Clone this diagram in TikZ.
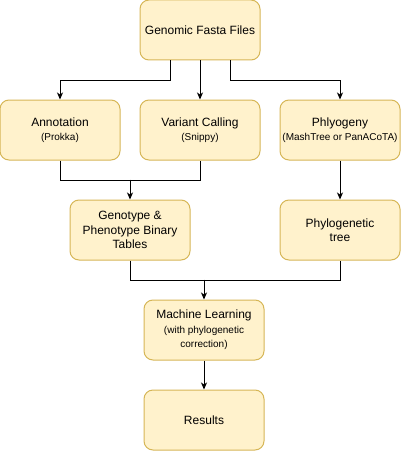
\documentclass[tikz,border=0pt]{standalone}
\usepackage{fontspec}
\setmainfont{Liberation Sans}
\usetikzlibrary{arrows.meta, positioning}
\definecolor{boxfill}{HTML}{FFF2CC}
\definecolor{boxline}{HTML}{D6B656}
\newcommand{\subtext}[1]{{\fontsize{10}{12}\selectfont #1}}

\begin{document}
\begin{tikzpicture}[x=1pt,y=-1pt,-{Stealth[length=7pt,width=6pt,inset=2pt]},line width=1pt,draw=black]
    \tikzstyle{stage}=[rectangle,rounded corners=9pt,draw=boxline,fill=boxfill,minimum width=120pt,minimum height=60pt,inner sep=0pt,align=center,font=\fontsize{12}{14.5}\selectfont]
    \useasboundingbox (0,0) rectangle (401,452);

    % Draw the input node
    \node[stage] (G) at (200,30) {Genomic Fasta Files};

    % Draw the three tools
    \foreach \name/\x/\main/\tool in {A/60/Annotation/(Prokka),V/200/Variant Calling/(Snippy),P/340/Phlyogeny/(MashTree or PanACoTA)}
        \node[stage] (\name) at (\x,130) {\main\\\subtext{\tool}};

    % Draw the tables and the tree
    \node[stage] (T) at (130,230) {Genotype \&\\Phenotype Binary\\Tables};
    \node[stage] (Y) at (340,230) {Phylogenetic\\tree};

    % Draw the learning step and the output
    \node[stage] (M) at (204,330) {Machine Learning\\\subtext{(with phylogenetic}\\\subtext{correction)}};
    \node[stage] (R) at (204,420) {Results};

    % Connect the input with the tools
    \draw ([xshift=-30pt]G.south) -- ++(0,20) -| (A.north);
    \draw (G) -- (V);
    \draw ([xshift=30pt]G.south) -- ++(0,20) -| (P.north);

    % Join annotation and variant calling into the tables
    \coordinate (j1) at ([yshift=20pt]T.north);
    \draw[-] (A.south) -- ++(0,20) -| (V.south);
    \draw (j1) -- (T);
    \draw (P) -- (Y);

    % Join tables and tree into machine learning
    \coordinate (j2) at ([yshift=20pt]M.north);
    \draw[-] (T.south) -- ++(0,20) -| (Y.south);
    \draw (j2) -- (M);
    \draw (M) -- (R);
\end{tikzpicture}
\end{document}
